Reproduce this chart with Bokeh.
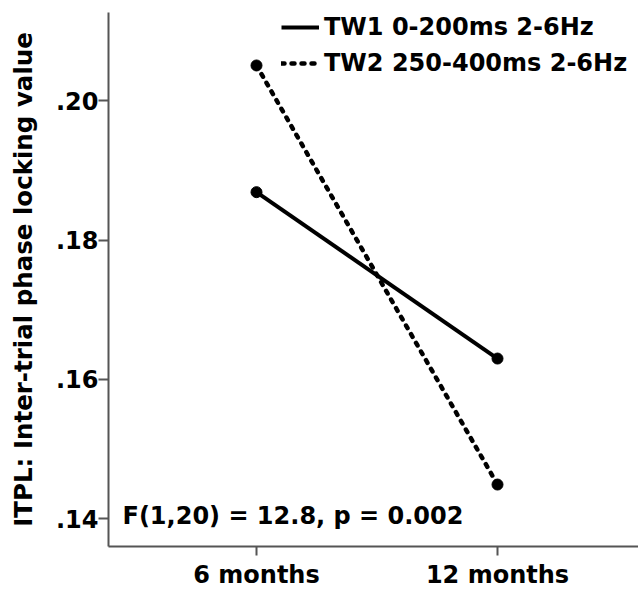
from bokeh.plotting import figure
from bokeh.models import Range1d, FixedTicker, Legend, LegendItem, Label
from bokeh.embed import file_html
from bokeh.resources import INLINE

# ---- data ----
categories = ["6 months", "12 months"]
cat_pos = [0, 1]
tw1_label = "TW1 0-200ms 2-6Hz"
tw2_label = "TW2 250-400ms 2-6Hz"
tw1_values = [0.1869, 0.1630]
tw2_values = [0.2051, 0.1449]
y_ticks = [0.14, 0.16, 0.18, 0.20]
y_tick_labels = [".14", ".16", ".18", ".20"]
y_axis_title = "ITPL: Inter-trial phase locking value"
stat_text = "F(1,20) = 12.8, p = 0.002"

FONT = "DejaVu Sans"
FS = "24px"

p = figure(width=638, height=591, output_backend="svg", toolbar_location=None,
           x_range=Range1d(-0.6141, 1.585), y_range=Range1d(0.1360, 0.21271),
           min_border_left=108, min_border_right=0, min_border_top=12, min_border_bottom=42)
p.outline_line_color = None
p.xgrid.visible = False
p.ygrid.visible = False
p.background_fill_color = "white"
p.border_fill_color = "white"

# axes
for ax in (p.xaxis[0], p.yaxis[0]):
    ax.axis_line_color = "#555555"
    ax.axis_line_width = 2
    ax.major_tick_line_color = "#555555"
    ax.major_tick_line_width = 2
    ax.major_tick_in = 0
    ax.minor_tick_line_color = None
    ax.major_label_text_font = FONT
    ax.major_label_text_font_style = "bold"
    ax.major_label_text_font_size = FS
    ax.major_label_text_color = "black"

p.xaxis.ticker = FixedTicker(ticks=cat_pos)
p.xaxis.major_label_overrides = {c: l for c, l in zip(cat_pos, categories)}
p.xaxis.major_tick_out = 9
p.xaxis.major_label_standoff = 5

p.yaxis.ticker = FixedTicker(ticks=y_ticks)
p.yaxis.major_label_overrides = {t: l for t, l in zip(y_ticks, y_tick_labels)}
p.yaxis.major_tick_out = 10
p.yaxis.major_label_standoff = 0
p.yaxis.axis_label = y_axis_title
p.yaxis.axis_label_text_font = FONT
p.yaxis.axis_label_text_font_style = "bold"
p.yaxis.axis_label_text_font_size = "24.5px"
p.yaxis.axis_label_text_color = "black"
p.yaxis.axis_label_standoff = 15

# series
r1 = p.line(cat_pos, tw1_values, line_color="black", line_width=4)
c1 = p.scatter(cat_pos, tw1_values, size=11, color="black")
r2 = p.line(cat_pos, tw2_values, line_color="black", line_width=4.5,
            line_dash="3 7", line_cap="round")
c2 = p.scatter(cat_pos, tw2_values, size=11, color="black")

legend = Legend(items=[LegendItem(label=tw1_label, renderers=[r1]),
                       LegendItem(label=tw2_label, renderers=[r2])],
                location=(173, 468), padding=0, margin=0, spacing=6,
                glyph_width=38, glyph_height=30, label_height=30, label_standoff=5,
                label_text_font=FONT, label_text_font_style="bold",
                label_text_font_size=FS, label_text_color="black",
                border_line_color=None, background_fill_alpha=0)
p.add_layout(legend)

p.add_layout(Label(x=-0.556, y=0.1404, text=stat_text, text_font=FONT,
                   text_font_style="bold", text_font_size=FS, text_color="black",
                   text_baseline="alphabetic"))

open("out.html", "w").write(file_html(p, INLINE))
